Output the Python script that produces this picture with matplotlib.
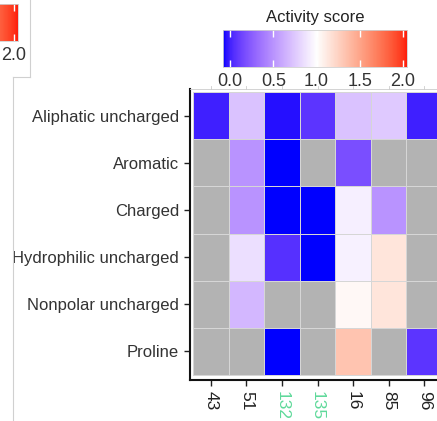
import numpy as np
import matplotlib
matplotlib.use("Agg")
import matplotlib.pyplot as plt
import matplotlib.transforms as mtransforms
from matplotlib.colors import ListedColormap, Normalize
from matplotlib.lines import Line2D

plt.rcParams['font.family'] = ['Liberation Sans', 'DejaVu Sans']

# activity scores, rows = residue class, columns = position (NaN = not measured)
residue_classes = ['Aliphatic uncharged', 'Aromatic', 'Charged',
                   'Hydrophilic uncharged', 'Nonpolar uncharged', 'Proline']
positions = ['43', '51', '132', '135', '16', '85', '96']
highlight_positions = ['132', '135']
nan = np.nan
scores = [
    [-0.01, 0.72, -0.05, 0.07, 0.72, 0.75, -0.01],
    [nan, 0.50, -0.08, nan, 0.18, nan, nan],
    [nan, 0.50, -0.08, -0.08, 0.93, 0.50, nan],
    [nan, 0.85, 0.05, -0.08, 0.94, 1.15, nan],
    [nan, 0.665, nan, nan, 1.04, 1.15, nan],
    [nan, nan, -0.08, nan, 1.33, nan, 0.07],
]
score_min, score_max = -0.081, 2.046
score_mid = 1.0
legend_ticks = [0.0, 0.5, 1.0, 1.5, 2.0]

W, H = 437, 421


def srgb_to_lab(rgb):
    rgb = np.asarray(rgb, float)
    lin = np.where(rgb <= 0.04045, rgb / 12.92, ((rgb + 0.055) / 1.055) ** 2.4)
    m = np.array([[0.4124, 0.3576, 0.1805],
                  [0.2126, 0.7152, 0.0722],
                  [0.0193, 0.1192, 0.9505]])
    xyz = lin @ m.T / np.array([0.95047, 1.0, 1.08883])
    d = 6 / 29
    f = np.where(xyz > d ** 3, np.cbrt(xyz), xyz / (3 * d ** 2) + 4 / 29)
    return np.stack([116 * f[..., 1] - 16,
                     500 * (f[..., 0] - f[..., 1]),
                     200 * (f[..., 1] - f[..., 2])], axis=-1)


def lab_to_srgb(lab):
    lab = np.asarray(lab, float)
    fy = (lab[..., 0] + 16) / 116
    fx = fy + lab[..., 1] / 500
    fz = fy - lab[..., 2] / 200
    f = np.stack([fx, fy, fz], axis=-1)
    d = 6 / 29
    xyz = np.where(f > d, f ** 3, 3 * d ** 2 * (f - 4 / 29))
    xyz = xyz * np.array([0.95047, 1.0, 1.08883])
    minv = np.array([[3.2406, -1.5372, -0.4986],
                     [-0.9689, 1.8758, 0.0415],
                     [0.0557, -0.2040, 1.0570]])
    lin = np.clip(xyz @ minv.T, 0, 1)
    rgb = np.where(lin <= 0.0031308, 12.92 * lin, 1.055 * lin ** (1 / 2.4) - 0.055)
    return np.clip(rgb, 0, 1)


def diverging_lab(low, mid, high, n=256):
    # blue -> white -> red, interpolated in Lab space
    stops = srgb_to_lab([low, mid, high])
    t = np.linspace(0, 1, n)
    lab = np.where(t[:, None] < 0.5,
                   stops[0] + (stops[1] - stops[0]) * (t[:, None] * 2),
                   stops[1] + (stops[2] - stops[1]) * (t[:, None] * 2 - 1))
    return ListedColormap(lab_to_srgb(lab))


cmap = diverging_lab((0, 0, 1), (1, 1, 1), (1, 0, 0)).with_extremes(bad='#b3b3b3')
half = max(score_mid - score_min, score_max - score_mid)
norm = Normalize(vmin=score_mid - half, vmax=score_mid + half)


def px_box(left, top, right, bottom):
    return [left / W, 1 - bottom / H, (right - left) / W, (bottom - top) / H]


def draw_colorbar(fig, left, top, title=None, shown=None):
    cax = fig.add_axes(px_box(left, top, left + 184, top + 37))
    grad = np.linspace(score_min, score_max, 300)[None, :]
    cax.imshow(grad, extent=[score_min, score_max, 0, 1], aspect='auto',
               cmap=cmap, norm=norm, interpolation='bilinear')
    cax.set_xlim(score_min, score_max)
    cax.set_ylim(0, 1)
    cax.vlines(legend_ticks, 0, 0.2, color='white', lw=1)
    cax.vlines(legend_ticks, 0.8, 1, color='white', lw=1)
    cax.set_yticks([])
    # only label the ticks that fall inside the figure
    ticks = legend_ticks if shown is None else shown
    cax.set_xticks(ticks)
    cax.set_xticklabels([f'{t:.1f}' for t in ticks])
    cax.tick_params(axis='x', length=0, pad=4, labelsize=13, labelcolor='#333333')
    for s in cax.spines.values():
        s.set_color('#d0d0d0')
        s.set_linewidth(0.6)
    if title:
        cax.set_title(title, fontsize=12, color='#222222', pad=6)
    return cax


fig = plt.figure(figsize=(W / 100, H / 100), dpi=100)
fig.patch.set_facecolor('white')

# heatmap panel
data = np.ma.masked_invalid(np.array(scores, float))
n_rows, n_cols = data.shape
ax = fig.add_axes(px_box(190, 89, 445, 380))
ax.pcolormesh(np.arange(n_cols + 1) - 0.5, np.arange(n_rows + 1) - 0.5, data,
              cmap=cmap, norm=norm, edgecolors='#d6d6d6', linewidth=0.6)
ax.set_xlim(-0.584, n_cols - 0.5 + 0.084)
ax.set_ylim(n_rows - 0.5 + 0.106, -0.564)

ax.set_yticks(range(n_rows))
ax.set_yticklabels(residue_classes)
ax.set_xticks(range(n_cols))
ax.set_xticklabels(positions, rotation=-90, va='top', ha='center')
for lbl in ax.get_xticklabels():
    if lbl.get_text() in highlight_positions:
        lbl.set_color('#5fd99a')
    else:
        lbl.set_color('#222222')

ax.tick_params(axis='y', length=4, width=1, pad=4, labelsize=12,
               labelcolor='#333333', color='#222222')
ax.tick_params(axis='x', length=4, width=1, pad=4, labelsize=12.5, color='#222222')

# faint top rule with short ticks at each position
ax.spines['right'].set_visible(False)
ax.spines['top'].set_color('#cccccc')
ax.spines['top'].set_linewidth(0.6)
top_trans = mtransforms.blended_transform_factory(ax.transData, ax.transAxes)
tick_h = 3 / 291
for i in range(n_cols):
    ax.plot([i, i], [1, 1 + tick_h], color='#cccccc', lw=0.6,
            transform=top_trans, clip_on=False)

for side in ('left', 'bottom'):
    ax.spines[side].set_color('#111111')
    ax.spines[side].set_linewidth(1.5)

# legends: main one above the heatmap, neighbouring one clipped at the corner
draw_colorbar(fig, 223, 30, title='Activity score')
draw_colorbar(fig, -166, 4, shown=[2.0])

# panel borders of the neighbouring plot
edge = '#d0d0d0'
for xs, ys in [((30, 30), (0, 77)), ((13, 30), (77, 77)), ((13, 13), (77, 421))]:
    fig.add_artist(Line2D([x / W for x in xs], [1 - y / H for y in ys],
                          transform=fig.transFigure, color=edge, lw=0.8))

fig.savefig('out.png', dpi=100)
